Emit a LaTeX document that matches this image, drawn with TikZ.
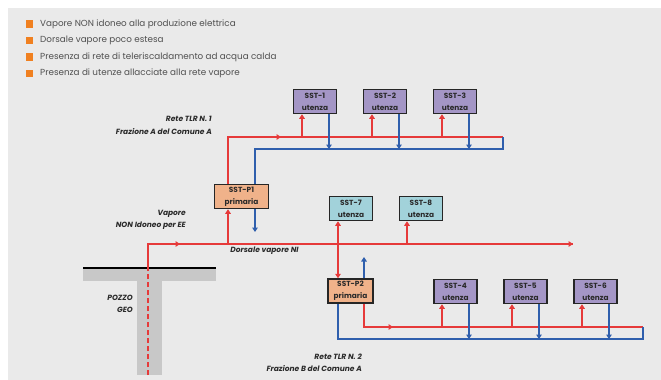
\documentclass[tikz,border=0pt]{standalone}
\usepackage{fontspec}
\setmainfont{Poppins}
\usetikzlibrary{arrows.meta}
\definecolor{bgc}{HTML}{EAEAEA}
\definecolor{lred}{HTML}{E63A3A}
\definecolor{lblue}{HTML}{2F5FAD}
\definecolor{purp}{HTML}{A496C6}
\definecolor{cteal}{HTML}{A2D2DA}
\definecolor{orng}{HTML}{F0B28A}
\definecolor{legsq}{HTML}{F08020}
\definecolor{legtxt}{HTML}{505050}
\definecolor{lbltxt}{HTML}{2A2A2A}
\definecolor{grnd}{HTML}{C8C8C8}
\tikzset{
  sstbox/.style={draw=black!85, line width=1.5pt, minimum height=24pt, inner sep=0pt,
    align=center, text=lbltxt, font=\bfseries\fontsize{7.4}{12}\selectfont},
  utbox/.style={sstbox, fill=purp, minimum width=43pt},
  tealbox/.style={sstbox, fill=cteal, minimum width=43pt},
  primbox/.style={sstbox, fill=orng},
  redline/.style={draw=lred, line width=1.8pt},
  blueline/.style={draw=lblue, line width=1.8pt},
  tip/.style={-{Triangle[width=5.5pt,length=4.5pt]}},
  lbl/.style={inner sep=0pt, text=lbltxt, font=\bfseries\itshape\fontsize{7.5}{9}\selectfont},
  legtext/.style={inner sep=0pt, anchor=west, text=legtxt, font=\fontsize{8.8}{10}\selectfont},
  legbox/.style={fill=legsq, minimum size=7.5pt, inner sep=0pt}
}
\begin{document}
\begin{tikzpicture}[x=1pt,y=-1pt]
\useasboundingbox (0,0) rectangle (661,380);
\fill[white] (0,0) rectangle (661,380);
\fill[bgc] (8,8) rectangle (661,380);

% legend
\node[legbox] (lb1) at (29.5,24) {};
\node[legtext] (lt1) at (40,24) {Vapore NON idoneo alla produzione elettrica};
\node[legbox] (lb2) at (29.5,40.5) {};
\node[legtext] (lt2) at (40,40.5) {Dorsale vapore poco estesa};
\node[legbox] (lb3) at (29.5,57) {};
\node[legtext] (lt3) at (40,57) {Presenza di rete di teleriscaldamento ad acqua calda};
\node[legbox] (lb4) at (29.5,73.5) {};
\node[legtext] (lt4) at (40,73.5) {Presenza di utenze allacciate alla rete vapore};

% ground and well
\fill[grnd] (83,268) rectangle (216,281);
\fill[grnd] (137,281) rectangle (162,375);
\draw[black, line width=1.2pt] (83,268) -- (216,268);

% boxes
\node[utbox] (s1) at (315,101.5) {SST-1\\utenza};
\node[utbox] (s2) at (385,101.5) {SST-2\\utenza};
\node[utbox] (s3) at (455,101.5) {SST-3\\utenza};
\node[primbox, minimum width=54pt] (p1) at (241.5,196.5) {SST-P1\\primaria};
\node[tealbox] (s7) at (351,208.5) {SST-7\\utenza};
\node[tealbox] (s8) at (421,208.5) {SST-8\\utenza};
\node[primbox, minimum width=45pt] (p2) at (350.5,291) {SST-P2\\primaria};
\node[utbox] (s4) at (455.5,291.5) {SST-4\\utenza};
\node[utbox] (s5) at (525.5,291.5) {SST-5\\utenza};
\node[utbox] (s6) at (595.5,291.5) {SST-6\\utenza};

% labels
\node[lbl, anchor=east] (t1a) at (212,119) {Rete TLR N. 1};
\node[lbl, anchor=east] (t1b) at (212,132) {Frazione A del Comune A};
\node[lbl, anchor=east] (va) at (186,214) {Vapore};
\node[lbl, anchor=east] (vb) at (186,226) {NON Idoneo per EE};
\node[lbl] (dors) at (264.5,251) {Dorsale vapore NI};
\node[lbl, anchor=east] (pz) at (133,298) {POZZO};
\node[lbl, anchor=east] (geo) at (133,310) {GEO};
\node[lbl, anchor=east] (t2a) at (362,357) {Rete TLR N. 2};
\node[lbl, anchor=east] (t2b) at (362,369) {Frazione B del Comune A};

% coordinates
\coordinate (r1L) at (228,137);
\coordinate (r1R) at (503,137);
\coordinate (b1R) at (503,149);
\coordinate (b1L) at (255,149);
\coordinate (m1) at (281,137);
\coordinate (p1out) at (255,232);
\coordinate (wtop) at (148,268);
\coordinate (wbot) at (148,375);
\coordinate (dL) at (148,244);
\coordinate (dR) at (573,244);
\coordinate (m2) at (180,244);
\coordinate (d1) at (228,244);
\coordinate (d7) at (338,244);
\coordinate (d8) at (407,244);
\coordinate (p2ret) at (364,257);
\coordinate (r2L) at (364,327);
\coordinate (r2R) at (643,327);
\coordinate (b2L) at (338,339);
\coordinate (b2R) at (643,339);
\coordinate (m3) at (393,327);

% network 1 red
\draw[redline] (p1.north -| r1L) -- (r1L) -- (r1R);
\draw[redline, tip] (r1L) -- (m1);
\foreach \s in {s1,s2,s3} {
  \draw[redline, tip] ([xshift=-13pt]\s.south |- r1L) -- ([xshift=-13pt]\s.south);
}
% dorsale
\draw[redline, dash pattern=on 5pt off 3pt] (wbot) -- (wtop);
\draw[redline] (wtop) -- (dL) -- (dR);
\draw[redline, tip] (dL) -- (dR);
\draw[redline, tip] (dL) -- (m2);
\draw[redline, tip] (d1) -- (p1.south -| d1);
\draw[redline, tip] (d7) -- (s7.south -| d7);
\draw[redline, tip] (d7) -- (p2.north -| d7);
\draw[redline, tip] (d8) -- (s8.south -| d8);
% network 2 red
\draw[redline] (p2.south -| r2L) -- (r2L) -- (r2R);
\draw[redline, tip] (r2L) -- (m3);
\foreach \s in {s4,s5,s6} {
  \draw[redline, tip] ([xshift=-13.5pt]\s.south |- r2L) -- ([xshift=-13.5pt]\s.south);
}
% network 1 blue
\draw[blueline] (r1R) -- (b1R) -- (b1L) -- (p1.north -| b1L);
\draw[blueline, tip] (p1.south -| b1L) -- (p1out);
\foreach \s in {s1,s2,s3} {
  \draw[blueline, tip] ([xshift=14pt]\s.south) -- ([xshift=14pt]\s.south |- b1R);
}
% network 2 blue
\draw[blueline, tip] (p2.north -| p2ret) -- (p2ret);
\draw[blueline] (r2R) -- (b2R) -- (b2L) -- (p2.south -| b2L);
\foreach \s in {s4,s5,s6} {
  \draw[blueline, tip] ([xshift=13.5pt]\s.south) -- ([xshift=13.5pt]\s.south |- b2R);
}
\end{tikzpicture}
\end{document}
